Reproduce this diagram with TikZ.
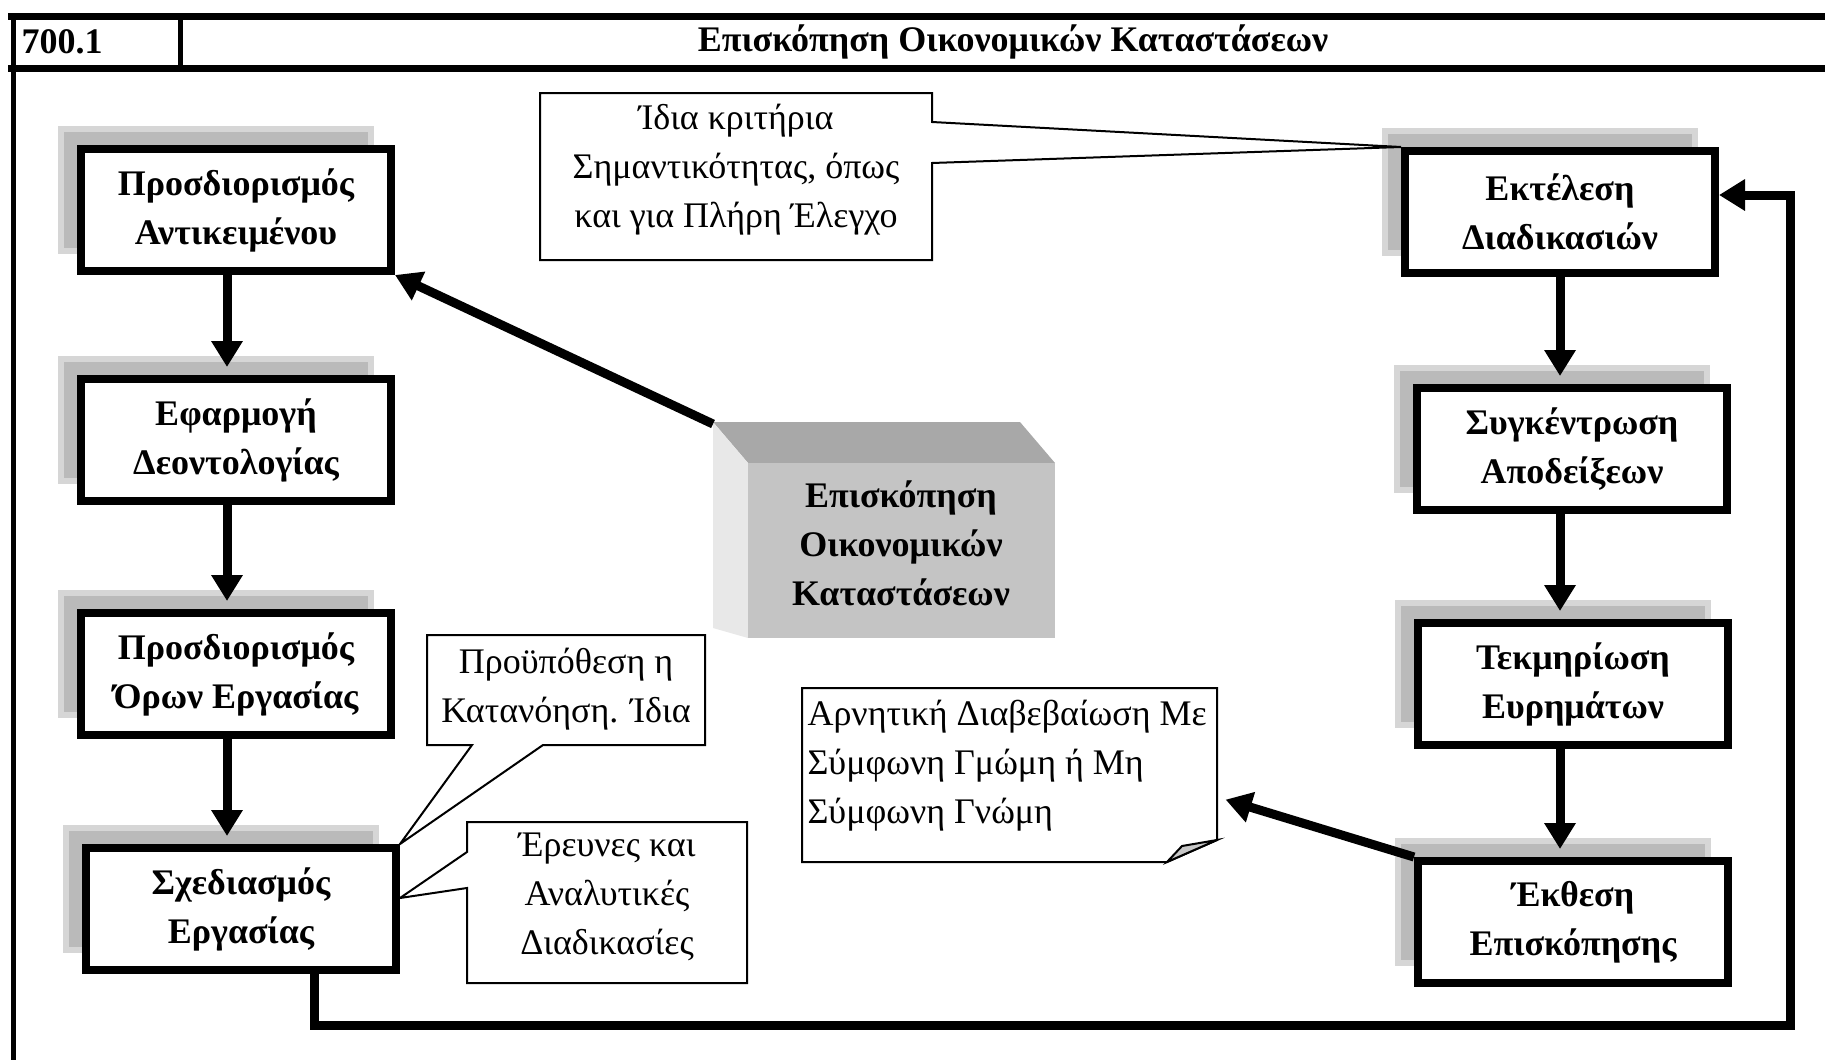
\documentclass[tikz,border=0pt]{standalone}
\usepackage{fontspec}
\setmainfont{Liberation Serif}
\usetikzlibrary{arrows.meta,shadows}

\begin{document}
\begin{tikzpicture}[x=1pt,y=-1pt,
    every node/.style={font=\fontsize{36}{49}\selectfont},
    boldtext/.style={font=\fontsize{36}{49}\selectfont\bfseries},
    stepbox/.style={boldtext, draw, line width=8pt, fill=white, align=center,
      minimum width=310pt, minimum height=122pt, inner sep=0pt,
      copy shadow={shadow xshift=-20pt, shadow yshift=20pt,
        draw=black!16, fill=black!27, line width=6pt}},
    flow/.style={line width=9pt, -{Triangle[width=30pt,length=26pt]}},
    note/.style={draw, line width=2pt, fill=white},
    notetext/.style={align=center}]
    \useasboundingbox (0,0) rectangle (1825,1060);

    % table frame
    \draw[line width=7pt] (8,16) -- (1825,16);
    \draw[line width=7pt] (8,68) -- (1825,68);
    \draw[line width=5pt] (13,13) -- (13,1060);
    \draw[line width=5pt] (180,16) -- (180,68);
    \node[boldtext, anchor=west] (code) at (18,42) {700.1};
    \node[boldtext] (title) at (1013,42) {Επισκόπηση Οικονομικών Καταστάσεων};

    % steps, left column
    \node[stepbox] (b1) at (236,210) {Προσδιορισμός\\Αντικειμένου};
    \node[stepbox] (b2) at (236,440) {Εφαρμογή\\Δεοντολογίας};
    \node[stepbox] (b3) at (236,674) {Προσδιορισμός\\Όρων Εργασίας};
    \node[stepbox] (b4) at (241,909) {Σχεδιασμός\\Εργασίας};

    % steps, right column
    \node[stepbox] (b5) at (1560,212) {Εκτέλεση\\Διαδικασιών};
    \node[stepbox] (b6) at (1572,449) {Συγκέντρωση\\Αποδείξεων};
    \node[stepbox] (b7) at (1573,684) {Τεκμηρίωση\\Ευρημάτων};
    \node[stepbox] (b8) at (1573,922) {Έκθεση\\Επισκόπησης};

    % the cube in the middle
    \fill[black!34] (713,422) -- (1020,422) -- (1055,463) -- (748,463) -- cycle;
    \fill[black!9] (713,422) -- (748,463) -- (748,638) -- (713,628) -- cycle;
    \fill[black!23] (748,463) rectangle (1055,638);
    \node[boldtext, align=center] (core) at (901,543) {Επισκόπηση\\Οικονομικών\\Καταστάσεων};
    \coordinate (corner) at (713,424);

    % flow
    \draw[flow, shorten >=8pt] ([xshift=-9pt]b1.south) -- ([xshift=-9pt]b2.north);
    \draw[flow, shorten >=8pt] ([xshift=-9pt]b2.south) -- ([xshift=-9pt]b3.north);
    \draw[flow, shorten >=8pt] ([xshift=-9pt]b3.south) -- ([xshift=-9pt]b3.south |- b4.north);
    \draw[flow, shorten >=8pt] (b5.south) -- (b5.south |- b6.north);
    \draw[flow, shorten >=8pt] (b6.south -| b5) -- (b7.north -| b5);
    \draw[flow, shorten >=8pt] (b7.south -| b5) -- (b8.north -| b5);
    \draw[flow] (corner) -- (b1.south east);
    \draw[flow] ([xshift=73pt]b4.south) -- (314,1025) -- (1790,1025) -- (1790,195)
      -- ([yshift=17pt]b5.east);

    % callouts
    \filldraw[note] (540,93) -- (932,93) -- (932,122) -- (b5.north west)
      -- (932,163) -- (932,260) -- (540,260) -- cycle;
    \node[notetext] (noteA) at (736,170) {Ίδια κριτήρια\\Σημαντικότητας, όπως\\και για Πλήρη Έλεγχο};

    \filldraw[note] (427,635) -- (705,635) -- (705,745) -- (543,745)
      -- (b4.north east) -- (472,745) -- (427,745) -- cycle;
    \node[notetext] (noteB) at (566,689) {Προϋπόθεση η\\Κατανόηση. Ίδια};

    \filldraw[note] (467,822) -- (747,822) -- (747,983) -- (467,983)
      -- (467,888) -- ([yshift=11pt]b4.east) -- (467,852) -- cycle;
    \node[notetext] (noteC) at (607,897) {Έρευνες και\\Αναλυτικές\\Διαδικασίες};

    % note with folded corner
    \filldraw[note] (802,688) -- (1217,688) -- (1217,840) -- (1167,862) -- (802,862) -- cycle;
    \filldraw[note, fill=black!22] (1167,862) -- (1182,846) -- (1217,840) -- cycle;
    \node[align=left, anchor=west] (noteD) at (804,766) {Αρνητική Διαβεβαίωση Με\\Σύμφωνη Γμώμη ή Μη\\Σύμφωνη Γνώμη};
    \coordinate (dtip) at (1217,797);
    \draw[flow, shorten >=9pt] (b8.north west) -- (dtip);
\end{tikzpicture}
\end{document}
